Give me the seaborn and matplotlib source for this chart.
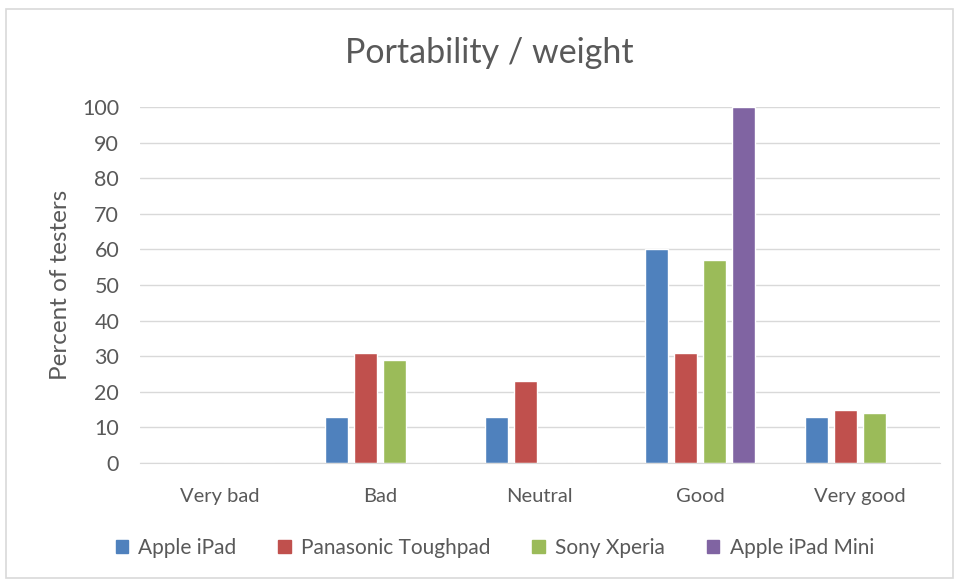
import matplotlib
matplotlib.use("Agg")
import matplotlib.pyplot as plt
from matplotlib.patches import Rectangle
import pandas as pd
import seaborn as sns

# Datos
categorias = ["Very bad", "Bad", "Neutral", "Good", "Very good"]
dispositivos = ["Apple iPad", "Panasonic Toughpad", "Sony Xperia", "Apple iPad Mini"]
apple_ipad = [0, 13, 13, 60, 13]
panasonic = [0, 31, 23, 31, 15]
sony = [0, 29, 0, 57, 14]
ipad_mini = [0, 0, 0, 100, 0]
colores = ["#4F81BD", "#C0504D", "#9BBB59", "#8064A2"]

series = [apple_ipad, panasonic, sony, ipad_mini]
filas = []
for disp, vals in zip(dispositivos, series):
    for cat, v in zip(categorias, vals):
        filas.append({"categoria": cat, "dispositivo": disp, "valor": v})
df = pd.DataFrame(filas)

sns.set_style("white")
plt.rcParams["font.family"] = ["Lato", "DejaVu Sans"]
gris = "#595959"

fig = plt.figure(figsize=(9.59, 5.81), dpi=100)
ax = fig.add_axes([0.146, 0.203, 0.834, 0.613])

sns.barplot(data=df, x="categoria", y="valor", hue="dispositivo",
            order=categorias, hue_order=dispositivos, palette=colores,
            width=0.725, gap=0.2, ax=ax, legend=False, saturation=1)

ax.set_ylim(0, 100)
ax.set_yticks(range(0, 101, 10))
ax.set_xlim(-0.5, 4.5)
ax.yaxis.grid(True, color="#D9D9D9", lw=1)
ax.set_axisbelow(True)
for s in ["top", "right", "left"]:
    ax.spines[s].set_visible(False)
ax.spines["bottom"].set_color("#D9D9D9")
ax.tick_params(axis="both", length=0, colors=gris)
ax.tick_params(axis="x", pad=18, labelsize=14.5)
ax.tick_params(axis="y", pad=15, labelsize=15.5)
ax.set_xlabel("")
ax.set_ylabel("Percent of testers", fontsize=17.5, color=gris, labelpad=8)

fig.text(0.51, 0.908, "Portability / weight", ha="center", va="center",
         fontsize=24.5, color=gris)

# leyenda abajo
handles = [Rectangle((0, 0), 1, 1, color=c) for c in colores]
fig.legend(handles, dispositivos, loc="center", bbox_to_anchor=(0.516, 0.057),
           ncol=4, frameon=False, fontsize=15, labelcolor=gris,
           handlelength=0.6, handleheight=0.6, columnspacing=2.0, handletextpad=0.5)

# borde del gráfico
fig.patches.append(Rectangle((0.006, 0.006), 0.988, 0.978, transform=fig.transFigure,
                             fill=False, edgecolor="#D9D9D9", lw=1.2))

fig.savefig("out.png", dpi=100)
